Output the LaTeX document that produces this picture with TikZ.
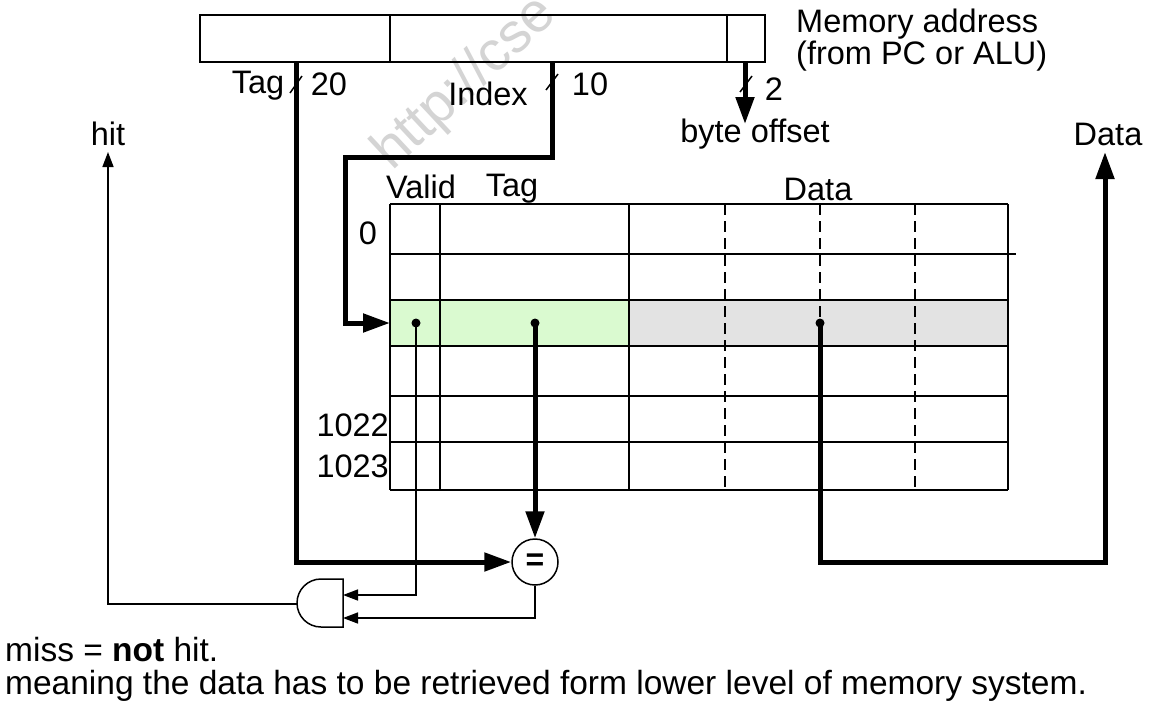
\documentclass[tikz,border=0pt]{standalone}
\usepackage{fontspec}
\setmainfont{Liberation Sans}
\usetikzlibrary{arrows.meta}
\definecolor{hlgreen}{RGB}{218,250,208}
\definecolor{hlgray}{RGB}{227,227,227}
\definecolor{wmgray}{RGB}{212,212,212}
\tikzset{
 thinline/.style={line width=1.5pt},
 thickline/.style={line width=5pt},
 thinarrow/.style={thinline,-{Triangle[length=15pt,width=11pt]}},
 thickarrow/.style={thickline,-{Triangle[length=27pt,width=18pt]}},
 lbl/.style={font=\fontsize{32.5}{36}\selectfont, inner sep=0pt},
 notelbl/.style={font=\fontsize{33.5}{36}\selectfont, inner sep=0pt},
 gridline/.style={line width=1.8pt},
 dashline/.style={line width=1.8pt, dash pattern=on 11pt off 6pt},
 dotmark/.style={circle, fill=black, inner sep=0pt, minimum size=9pt},
}
\begin{document}
\begin{tikzpicture}[x=1pt,y=-1pt]
\useasboundingbox (0,0) rectangle (1151,702);
\fill[white] (0,0) rectangle (1151,702);
% watermark
\node[rotate=43, anchor=base west, text=wmgray, font=\fontsize{56}{60}\selectfont, inner sep=0pt] (wm) at (392,172) {http://cse};
% address register
\draw[gridline] (200,15) rectangle (765,62);
\draw[gridline] (390,15) -- (390,62);
\draw[gridline] (727,15) -- (727,62);
\coordinate (tagtap) at (296,62);
\coordinate (idxtap) at (552,62);
\coordinate (offtap) at (745,62);
\node[lbl, anchor=west] (memaddr) at (796,24) {Memory address};
\node[lbl, anchor=west] (frompc) at (796,56) {(from PC or ALU)};
% field labels
\node[lbl] (taglbl) at (258,86) {Tag};
\node[lbl] (t20) at (329,84) {20};
\node[lbl] (idxlbl) at (488,94) {Index};
\node[lbl] (t10) at (590,84) {10};
\node[lbl] (t2) at (774,89) {2};
\draw[thinline] (290,93) -- (302,76);
\draw[thinline] (546,90) -- (558,74);
\draw[thinline] (740,92) -- (752,76);
% table highlight
\fill[hlgreen] (390,300) rectangle (629,346);
\fill[hlgray] (629,300) rectangle (1008,346);
% table grid
\foreach \yy in {204,300,346,396,442,490} \draw[gridline] (390,\yy) -- (1008,\yy);
\draw[gridline] (390,254) -- (1016,254);
\foreach \xx in {390,440,629,1008} \draw[gridline] (\xx,204) -- (\xx,490);
\foreach \xx in {725,820,915} \draw[dashline] (\xx,204) -- (\xx,490);
\node[lbl] (hvalid) at (421,187) {Valid};
\node[lbl] (htag) at (512,189) {Tag};
\node[lbl] (hdata) at (818,189) {Data};
\node[lbl] (r0) at (368,233) {0};
\node[lbl, anchor=east] (r1022) at (389,425) {1022};
\node[lbl, anchor=east] (r1023) at (389,466) {1023};
% dots
\node[dotmark] (dv) at (416,323) {};
\node[dotmark] (dt) at (535,323) {};
\node[dotmark] (dd) at (820,323) {};
\coordinate (rowsel) at (390,323);
% comparator
\node[draw, circle, thinline, minimum size=46pt, inner sep=0pt, fill=white, font=\fontsize{32}{32}\selectfont\bfseries] (eq) at (535,562) {=};
% AND gate
\draw[thinline, fill=white] (343,579) -- (321,579) arc[start angle=90, end angle=270, radius=24pt] -- (343,627) -- cycle;
\coordinate (gin1) at (343,595);
\coordinate (gin2) at (343,618);
\coordinate (gout) at (297,604);
% outputs
\coordinate (hitout) at (108,152);
\coordinate (dataout) at (1105,152);
\node[lbl] (hitlbl) at (108,134) {hit};
\node[lbl] (datalbl) at (1108,134) {Data};
\node[lbl] (bytelbl) at (755,134) {byte offset};
\coordinate (offend) at (745,124);
% connectors
\draw[thickarrow] (tagtap) |- (eq.west);
\draw[thickarrow] (idxtap) -- (552,157) -- (345,157) |- (rowsel);
\draw[thickarrow] (offtap) -- (offend);
\draw[thickarrow] (dt.center) -- (eq.north);
\draw[thickline] (dd.center) -- (820,562) -| (1105,300);
\draw[thickarrow] (1105,302) -- (dataout);
\draw[thinarrow] (dv.center) |- (gin1);
\draw[thinarrow] (eq.south) |- (gin2);
\draw[thinarrow] (gout) -| (hitout);
% bottom text
\node[notelbl, anchor=base west] (miss) at (5,661) {miss = \textbf{not} hit.};
\node[notelbl, anchor=base west] (meaning) at (5,694) {meaning the data has to be retrieved form lower level of memory system.};
\end{tikzpicture}
\end{document}
